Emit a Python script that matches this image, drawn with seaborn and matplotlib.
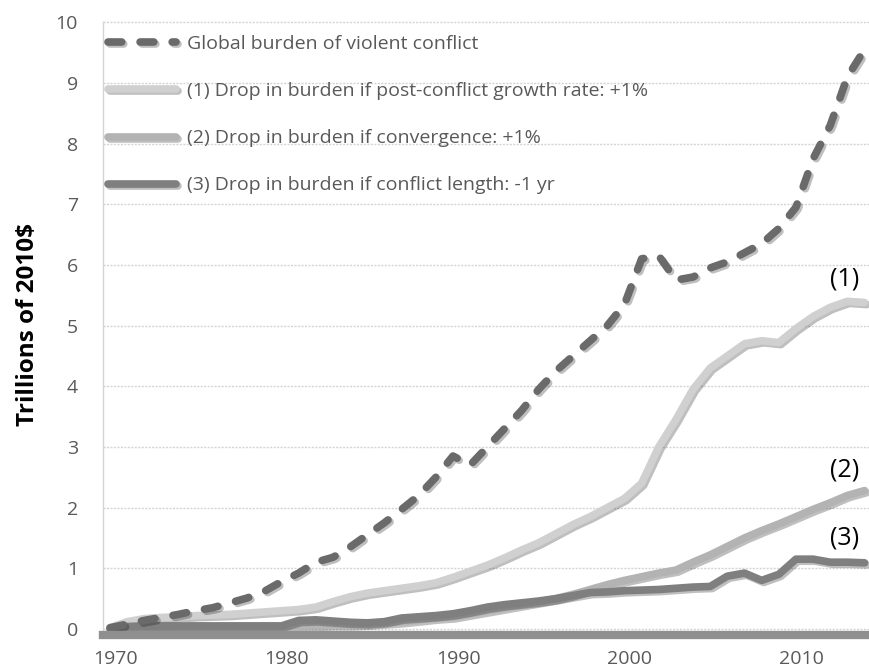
import numpy as np
import pandas as pd
import seaborn as sns
import matplotlib.pyplot as plt
import matplotlib.patheffects as pe

# Data (trillions of 2010$)
years = list(range(1970, 2015))

global_burden = [0.02, 0.08, 0.14, 0.19, 0.24, 0.30, 0.35, 0.43, 0.51, 0.62,
                 0.78, 0.92, 1.10, 1.18, 1.35, 1.55, 1.75, 1.97, 2.20, 2.50,
                 2.85, 2.70, 3.00, 3.30, 3.60, 3.95, 4.25, 4.50, 4.75, 5.00,
                 5.35, 6.10, 6.15, 5.75, 5.80, 5.95, 6.05, 6.20, 6.35, 6.60,
                 6.95, 7.75, 8.30, 9.10, 9.55]

drop_growth = [0.02, 0.12, 0.17, 0.19, 0.20, 0.22, 0.23, 0.24, 0.26, 0.28,
               0.30, 0.32, 0.36, 0.45, 0.53, 0.59, 0.63, 0.67, 0.71, 0.76,
               0.85, 0.95, 1.05, 1.17, 1.30, 1.42, 1.57, 1.72, 1.85, 2.00,
               2.15, 2.40, 3.00, 3.45, 3.95, 4.30, 4.50, 4.70, 4.75, 4.72,
               4.95, 5.15, 5.30, 5.40, 5.38]

drop_convergence = [0.00, 0.02, 0.03, 0.03, 0.03, 0.04, 0.04, 0.04, 0.04, 0.04,
                    0.04, 0.05, 0.06, 0.07, 0.07, 0.08, 0.10, 0.12, 0.15, 0.18,
                    0.20, 0.25, 0.30, 0.35, 0.40, 0.45, 0.50, 0.57, 0.65, 0.73,
                    0.80, 0.86, 0.92, 0.97, 1.10, 1.22, 1.36, 1.50, 1.62, 1.73,
                    1.85, 1.97, 2.08, 2.20, 2.28]

drop_length = [0.00, 0.04, 0.05, 0.05, 0.05, 0.05, 0.05, 0.05, 0.05, 0.05,
               0.05, 0.14, 0.15, 0.13, 0.11, 0.10, 0.12, 0.18, 0.20, 0.22,
               0.25, 0.30, 0.36, 0.40, 0.43, 0.46, 0.50, 0.55, 0.60, 0.61,
               0.63, 0.64, 0.65, 0.67, 0.69, 0.70, 0.87, 0.92, 0.80, 0.90,
               1.15, 1.15, 1.10, 1.10, 1.09]

series_labels = ['Global burden of violent conflict',
                 '(1) Drop in burden if post-conflict growth rate: +1%',
                 '(2) Drop in burden if convergence: +1%',
                 '(3) Drop in burden if conflict length: -1 yr']
end_tags = ['(1)', '(2)', '(3)']
tick_years = [1970, 1980, 1990, 2000, 2010]

sns.set_style('white')
plt.rcParams['font.family'] = ['Open Sans', 'DejaVu Sans']

fig = plt.figure(figsize=(8.69, 6.72), dpi=100)
ax = fig.add_axes([103 / 869, 1 - 635 / 672, 1 - 103 / 869, 614 / 672])

shadow = [pe.SimpleLineShadow(offset=(1.5, -1.5), alpha=0.25), pe.Normal()]
lw = 5.5

# solid series first, dashed total on top
solid = [(drop_growth, '#d0d0d0', series_labels[1]),
         (drop_convergence, '#b3b3b3', series_labels[2]),
         (drop_length, '#7f7f7f', series_labels[3])]
for vals, col, lab in solid:
    sns.lineplot(x=years, y=vals, ax=ax, color=col, lw=lw, label=lab,
                 solid_capstyle='round', solid_joinstyle='round')
    ax.lines[-1].set_path_effects(shadow)

sns.lineplot(x=years, y=global_burden, ax=ax, color='#6a6a6a', lw=lw,
             label=series_labels[0], linestyle=(0, (1.8, 2.4)),
             dash_capstyle='round', dash_joinstyle='round')
ax.lines[-1].set_path_effects(shadow)

ax.set_xlim(1969.59, 2014.26)
ax.set_ylim(-0.1, 10.02)
ax.set_yticks(range(0, 11))
ax.set_xticks([y + 0.3 for y in tick_years])
ax.set_xticklabels([str(y) for y in tick_years])
ax.tick_params(length=0, labelsize=14, labelcolor='#595959')
ax.tick_params(axis='y', pad=18)
ax.tick_params(axis='x', pad=11)

ax.yaxis.grid(True, color='#d4d4d4', lw=1, linestyle=(0, (1.5, 1)))
ax.xaxis.grid(False)
for s in ['top', 'right']:
    ax.spines[s].set_visible(False)
ax.spines['left'].set_color('#d4d4d4')
ax.spines['left'].set_linestyle((0, (1.5, 1)))
ax.spines['left'].set_linewidth(1)
ax.spines['bottom'].set_color('#8f8f8f')
ax.spines['bottom'].set_linewidth(6)

ax.set_ylabel('Trillions of 2010$', fontsize=17.5, fontweight='bold', color='black')
ax.yaxis.set_label_coords(-0.0825, 0.505)
ax.set_xlabel('')

# end labels
tag_y = [5.77, 2.62, 1.50]
for t, yv in zip(end_tags, tag_y):
    ax.text(2012.85, yv, t, fontsize=18, color='black', ha='center', va='center')

handles, labs = ax.get_legend_handles_labels()
order = [3, 0, 1, 2]
ax.legend([handles[i] for i in order], [labs[i] for i in order],
          loc='upper left', bbox_to_anchor=(108 / 869, 1 - 35 / 672),
          bbox_transform=fig.transFigure, frameon=False, fontsize=14,
          labelcolor='#595959', handlelength=3.5, handletextpad=0.55,
          labelspacing=1.5, borderpad=0, borderaxespad=0)

fig.savefig('out.png', dpi=100)
